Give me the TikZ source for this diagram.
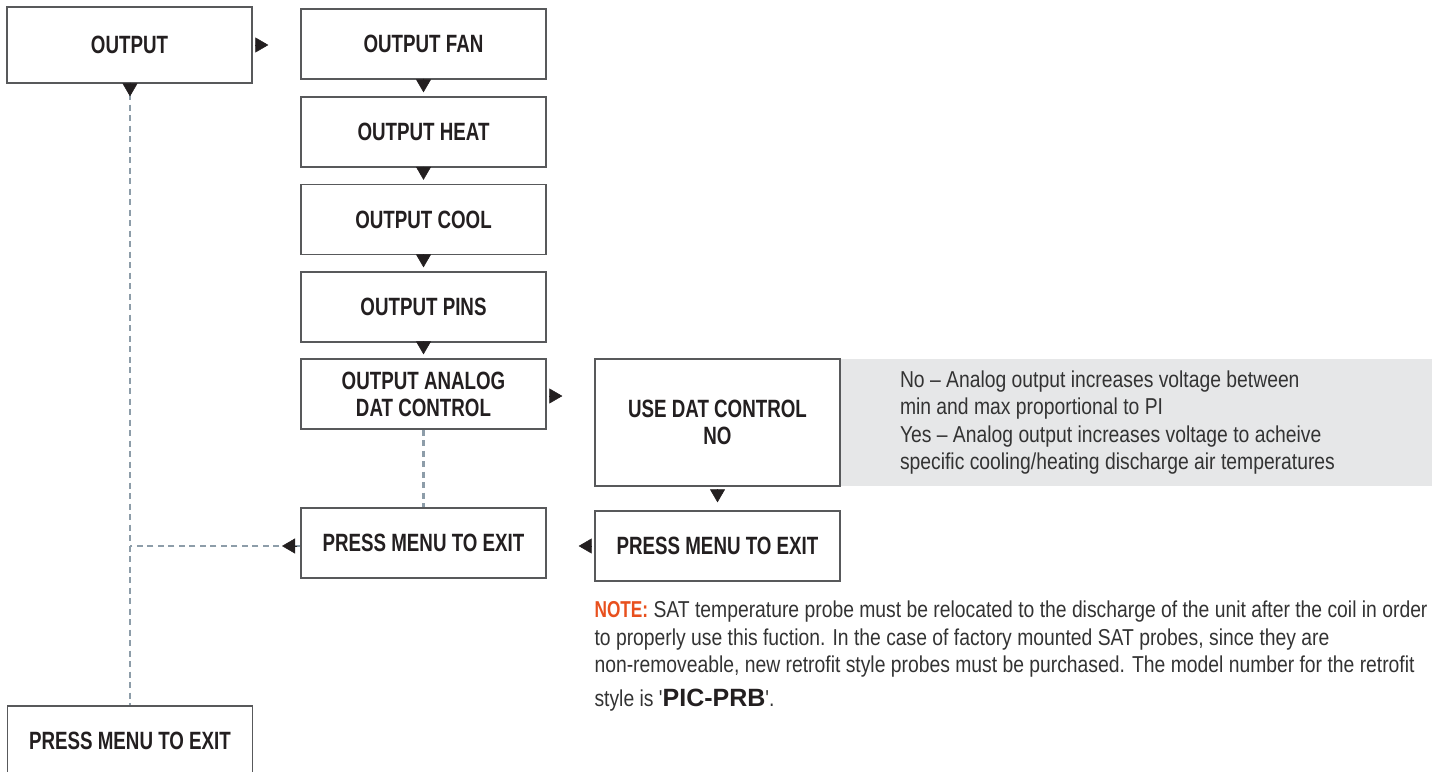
\documentclass[tikz,border=0pt]{standalone}
\usepackage{fontspec}
\setmainfont{Liberation Sans}
\newfontfamily\condfont{Liberation Sans}[FakeStretch=0.75]
\newfontfamily\bodyfont{Liberation Sans}[FakeStretch=0.84]
\usetikzlibrary{arrows.meta,calc}
\definecolor{boxtext}{HTML}{231F20}
\definecolor{bodycol}{HTML}{333333}
\definecolor{boxline}{HTML}{58595B}
\definecolor{dashcol}{HTML}{8D9DA9}
\definecolor{graybg}{HTML}{E6E7E8}
\definecolor{noteorange}{HTML}{E8501E}
\begin{document}
\begin{tikzpicture}[x=1pt,y=-1pt,
  menubox/.style={draw=boxline, line width=1.3pt, minimum width=245pt, minimum height=70pt,
    inner sep=0pt, align=center, text=boxtext, font=\condfont\bfseries\fontsize{25}{27}\selectfont},
  tri/.style={draw=boxtext, fill=boxtext, line width=0.5pt, -{Triangle[length=13pt,width=15pt]}},
  dashline/.style={draw=dashcol, line width=2.8pt, dash pattern=on 6pt off 4.5pt},
  bodytext/.style={text=bodycol, font=\bodyfont\fontsize{23}{27.5}\selectfont, align=left, inner sep=0pt}
]
\useasboundingbox (0,0) rectangle (1440,771);

% boxes
\node[menubox, minimum height=76pt] (out) at (129.5,45) {OUTPUT};
\node[menubox] (fan) at (423.5,44) {OUTPUT FAN};
\node[menubox] (heat) at (423.5,132) {OUTPUT HEAT};
\node[menubox] (cool) at (423.5,219.5) {OUTPUT COOL};
\node[menubox] (pins) at (423.5,307) {OUTPUT PINS};
\node[menubox] (analog) at (423.5,394) {OUTPUT ANALOG\\DAT CONTROL};
\node[fill=graybg, minimum width=592pt, minimum height=127pt, inner sep=0pt] (gray) at (1136,422.5) {};
\node[menubox, minimum height=127pt, fill=white] (usedat) at (717.5,422.5) {USE DAT CONTROL\\NO};
\node[menubox] (pm2) at (717.5,546) {PRESS MENU TO EXIT};
\node[menubox] (pm1) at (423.5,543) {PRESS MENU TO EXIT};
\node[menubox] (bot) at (130,741) {PRESS MENU TO EXIT};

% texts
\node[bodytext, anchor=west] (gtext) at ([xshift=60pt]gray.west)
  {No – Analog output increases voltage between\\
   min and max proportional to PI\\
   Yes – Analog output increases voltage to acheive\\
   specific cooling/heating discharge air temperatures};
\node[bodytext, anchor=north west] (note) at ([yshift=-19pt]pm2.south west)
  {{\condfont\bfseries\color{noteorange}NOTE:} SAT temperature probe must be relocated to the discharge of the unit after the coil in order\\
   to properly use this fuction. In the case of factory mounted SAT probes, since they are\\
   non-removeable, new retrofit style probes must be purchased. The model number for the retrofit\\[6pt]
   style is '{\normalfont\bfseries\color{boxtext}\fontsize{25}{28}\selectfont PIC-PRB}'.};

% dashed connectors
\coordinate (junc) at (bot.north |- pm2.west);
\draw[dashline] (out.south -| bot.north) -- (bot.north);
\draw[dashline] (pm1.west |- pm2.west) -- (junc);
\draw[dashline] (analog.south) -- (pm1.north);

% arrowheads
\draw[tri, shorten <=1pt, shorten >=609pt] (out.south -| bot.north) -- (bot.north);
\draw[tri, shorten <=3pt, shorten >=32pt] (out.east) -- (out.east -| fan.west);
\draw[tri, shorten <=1pt, shorten >=4pt] (fan.south) -- (heat.north);
\draw[tri, shorten <=1pt, shorten >=4pt] (heat.south) -- (cool.north);
\draw[tri, shorten <=1pt, shorten >=4pt] (cool.south) -- (pins.north);
\draw[tri, shorten <=1pt, shorten >=4pt] (pins.south) -- (analog.north);
\draw[tri, shorten <=3pt, shorten >=32pt] ([yshift=-2pt]analog.east) -- ([yshift=-2pt]analog.east -| usedat.west);
\draw[tri, shorten <=4pt, shorten >=8pt] (usedat.south) -- (pm2.north);
\draw[tri, shorten <=3pt, shorten >=32pt] (pm2.west) -- (pm2.west -| pm1.east);
\draw[tri, shorten <=3pt, shorten >=152pt] (pm1.west |- pm2.west) -- (junc);
\end{tikzpicture}
\end{document}
